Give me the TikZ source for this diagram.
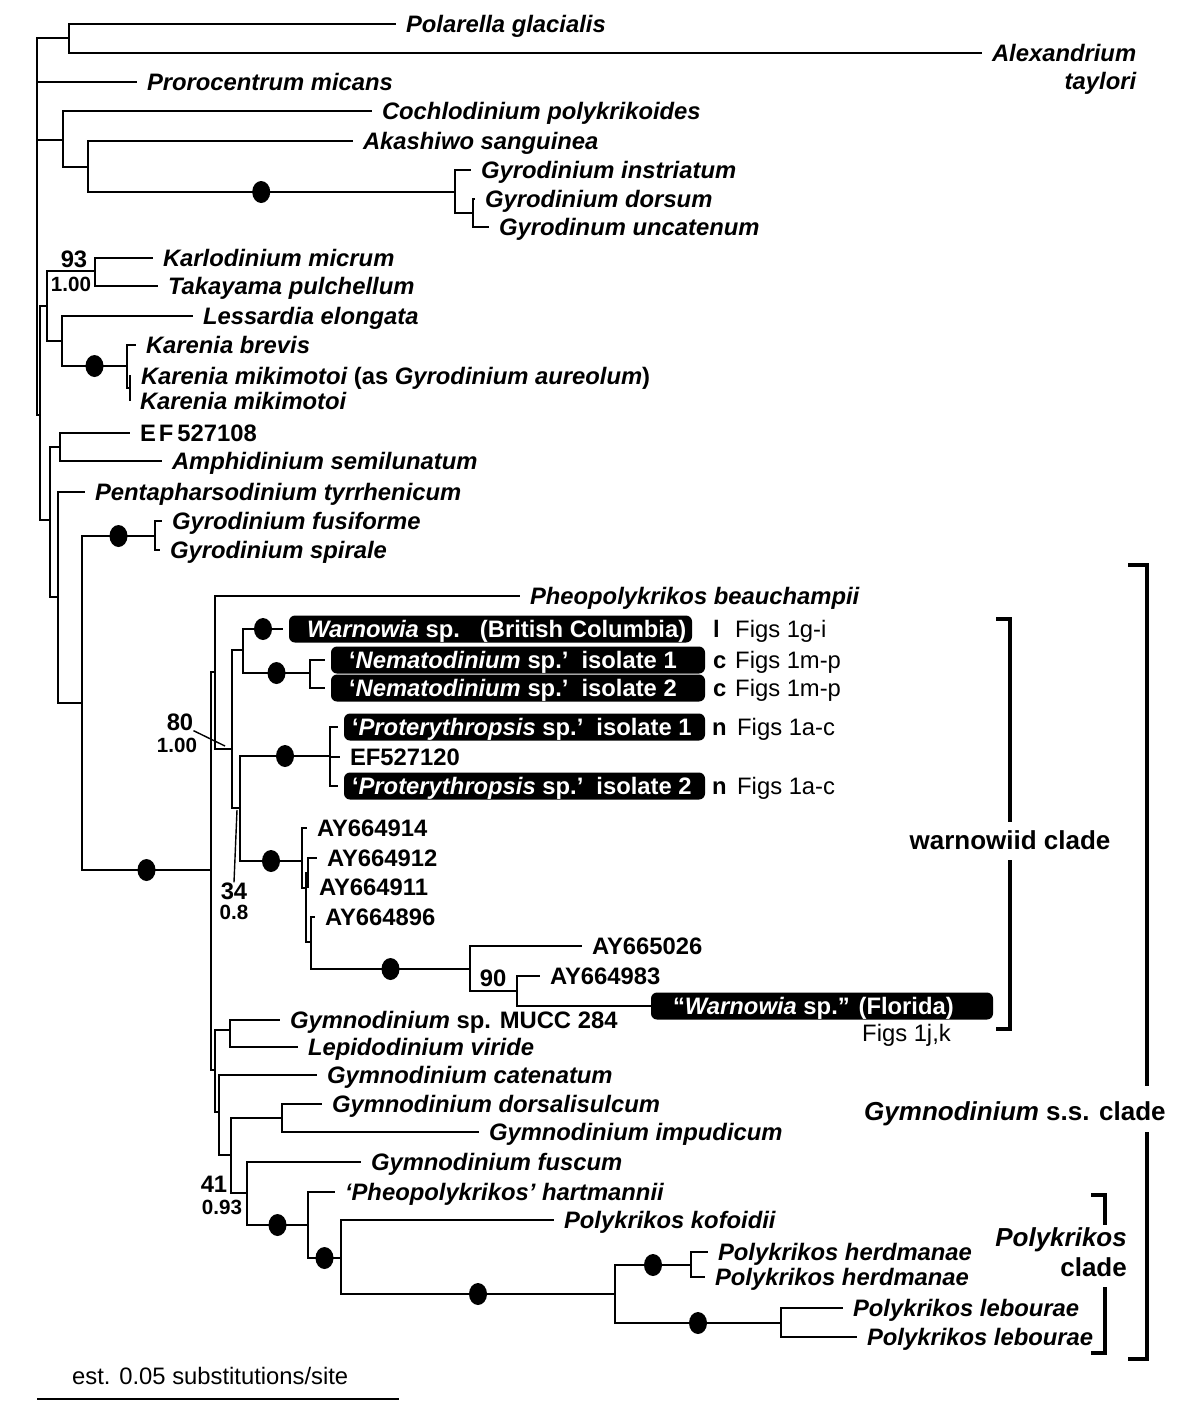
\documentclass[tikz,border=0pt]{standalone}
\usepackage{fontspec}
\setmainfont{Liberation Sans}
\usetikzlibrary{shapes.geometric,positioning}
\newcommand{\tsz}{\fontsize{23.8}{28}\selectfont}
\newcommand{\csz}{\fontsize{26}{30}\selectfont}
\newcommand{\ssz}{\fontsize{20.6}{24}\selectfont}
\newcommand{\boxlbl}[3]{\makebox[#1][l]{\hspace*{#2}#3}}
\tikzset{taxon/.style = {anchor=west, inner sep=0pt, outer xsep=10pt, text height=17pt, text depth=0pt, font=\tsz\bfseries\itshape}}
\tikzset{acc/.style = {taxon, font=\tsz\bfseries}}
\tikzset{wbox/.style = {anchor=west, fill=black, text=white, rounded corners=6pt, inner sep=0pt, minimum height=27pt, outer xsep=6pt, text height=17pt, text depth=0pt, font=\tsz\bfseries}}
\tikzset{fig/.style = {anchor=west, inner sep=0pt, text height=17pt, text depth=0pt, font=\tsz}}
\tikzset{dot/.style = {ellipse, fill=black, inner sep=0pt, minimum width=18pt, minimum height=22pt}}
\tikzset{boot/.style = {inner sep=0pt, font=\tsz\bfseries}}
\tikzset{post/.style = {inner sep=0pt, font=\ssz\bfseries}}
\tikzset{clade/.style = {inner sep=0pt, text height=17pt, text depth=0pt, font=\csz\bfseries}}
\tikzset{br/.style = {line width=1.4pt}}
\tikzset{brw/.style = {line width=2.5pt}}
\tikzset{bracket/.style = {line width=3.5pt}}

\begin{document}
\begin{tikzpicture}[x=1pt, y=-1pt]
\useasboundingbox (0,0) rectangle (1200,1422);

\coordinate (root) at (37,226);
\coordinate (c1) at (69,38);
\coordinate (c2) at (63,140);
\coordinate (akg) at (88,167);
\coordinate (gyrg) at (455,192);
\coordinate (gdu) at (473,213);
\coordinate (c3) at (40,415);
\coordinate (c4) at (47,306);
\coordinate (kt) at (95,271);
\coordinate (lk) at (62,341);
\coordinate (kar) at (127,366);
\coordinate (kmik) at (130,388);
\coordinate (c5) at (50,520);
\coordinate (efam) at (60,447);
\coordinate (c6) at (58,597);
\coordinate (c7) at (82,703);
\coordinate (fus) at (155,536);
\coordinate (gss) at (211,870);
\coordinate (wg) at (215,672);
\coordinate (wcl) at (232,749);
\coordinate (wa) at (243,650);
\coordinate (nem) at (310,673);
\coordinate (wb) at (240,808);
\coordinate (prot) at (330,756);
\coordinate (ay) at (302,861);
\coordinate (ayA) at (306,888);
\coordinate (ayB) at (308,873);
\coordinate (ayC) at (311,942);
\coordinate (fl) at (470,969);
\coordinate (fl2) at (517,991);
\coordinate (gbot) at (215,1070);
\coordinate (gl) at (230,1030);
\coordinate (gc) at (219,1112);
\coordinate (gd) at (231,1155);
\coordinate (di) at (282,1118);
\coordinate (gf) at (247,1193);
\coordinate (ph) at (308,1225);
\coordinate (pk) at (341,1258);
\coordinate (pl) at (615,1294);
\coordinate (herd) at (691,1265);
\coordinate (leb) at (781,1323);

\node[taxon] (pol) at (396,24) {Polarella glacialis};
\node[taxon] (alex) at (982,53) {Alexandrium};
\node[taxon, anchor=north east] (alexb) at ([yshift=-11pt]alex.south east) {taylori};
\node[taxon] (pro) at (137,82) {Prorocentrum micans};
\node[taxon] (cochlo) at (372,111) {Cochlodinium polykrikoides};
\node[taxon] (akash) at (353,141) {Akashiwo sanguinea};
\node[taxon] (instr) at (471,170) {Gyrodinium instriatum};
\node[taxon] (dorsum) at (475,199) {Gyrodinium dorsum};
\node[taxon] (uncat) at (489,227) {Gyrodinum uncatenum};
\node[taxon] (karlo) at (153,258) {Karlodinium micrum};
\node[taxon] (taka) at (158,286) {Takayama pulchellum};
\node[taxon] (less) at (193,316) {Lessardia elongata};
\node[taxon] (brevis) at (136,345) {Karenia brevis};
\node[taxon] (kmik1) at (131,376) {Karenia mikimotoi {\upshape(as} Gyrodinium aureolum{\upshape)}};
\node[taxon] (kmik2) at (130,401) {Karenia mikimotoi};
\node[acc] (ef108) at (130,433) {E\kern3pt F\kern4pt 527108};
\node[taxon] (amph) at (162,461) {Amphidinium semilunatum};
\node[taxon] (penta) at (85,492) {Pentapharsodinium tyrrhenicum};
\node[taxon] (fusi) at (162,521) {Gyrodinium fusiforme};
\node[taxon] (spir) at (160,550) {Gyrodinium spirale};
\node[taxon] (beau) at (520,596) {Pheopolykrikos beauchampii};
\node[wbox] (wbc) at (283,629) {\boxlbl{403pt}{18pt}{\textit{Warnowia} sp.\hspace{20pt}(British Columbia)}};
\node[wbox] (nem1) at (325,660) {\boxlbl{374pt}{18pt}{‘\textit{Nematodinium} sp.’\hspace{13pt}isolate 1}};
\node[wbox] (nem2) at (325,688) {\boxlbl{374pt}{18pt}{‘\textit{Nematodinium} sp.’\hspace{13pt}isolate 2}};
\node[wbox] (pro1) at (338,727) {\boxlbl{361pt}{8pt}{‘\textit{Proterythropsis} sp.’\hspace{13pt}isolate 1}};
\node[acc] (ef120) at (340,757) {EF527120};
\node[wbox] (pro2) at (338,786) {\boxlbl{361pt}{8pt}{‘\textit{Proterythropsis} sp.’\hspace{13pt}isolate 2}};
\node[acc] (ay914) at (307,828) {AY664914};
\node[acc] (ay912) at (317,858) {AY664912};
\node[acc] (ay911) at (309,887) {AY664911};
\node[acc] (ay896) at (315,917) {AY664896};
\node[acc] (ay026) at (582,946) {AY665026};
\node[acc] (ay983) at (540,976) {AY664983};
\node[wbox, outer xsep=0pt] (flo) at (651,1006) {\boxlbl{342pt}{22pt}{“\textit{Warnowia} sp.” (Florida)}};
\node[taxon] (gsp) at (280,1020) {Gymnodinium {\upshape sp. MUCC 284}};
\node[taxon] (lep) at (298,1047) {Lepidodinium viride};
\node[taxon] (cat) at (317,1075) {Gymnodinium catenatum};
\node[taxon] (dors) at (322,1104) {Gymnodinium dorsalisulcum};
\node[taxon] (impu) at (479,1132) {Gymnodinium impudicum};
\node[taxon] (fusc) at (361,1162) {Gymnodinium fuscum};
\node[taxon] (hart) at (335,1192) {‘Pheopolykrikos’ hartmannii};
\node[taxon] (kof) at (554,1220) {Polykrikos kofoidii};
\node[taxon] (herd1) at (708,1252) {Polykrikos herdmanae};
\node[taxon] (herd2) at (705,1277) {Polykrikos herdmanae};
\node[taxon] (leb1) at (843,1308) {Polykrikos lebourae};
\node[taxon] (leb2) at (857,1337) {Polykrikos lebourae};

\draw[br] (root) |- (c1);
\draw[br] (root) |- (pro.west);
\draw[br] (root) |- (c2);
\draw[br] (root) |- (c3);
\draw[br] (c1) |- (pol.west);
\draw[br] (c1) |- (alex.west);
\draw[br] (c2) |- (cochlo.west);
\draw[br] (c2) |- (akg);
\draw[br] (akg) |- (akash.west);
\draw[br] (akg) |- node[dot, pos=.736] (d1) {} (gyrg);
\draw[br] (gyrg) |- (instr.west);
\draw[br] (gyrg) |- (gdu);
\draw[br] (gdu) |- (dorsum.west);
\draw[br] (gdu) |- (uncat.west);
\draw[br] (c3) |- (c4);
\draw[br] (c3) |- (c5);
\draw[br] (c4) |- (kt);
\draw[br] (c4) |- (lk);
\draw[br] (kt) |- (karlo.west);
\draw[br] (kt) |- (taka.west);
\draw[br] (lk) |- (less.west);
\draw[br] (lk) |- node[dot, pos=.75] (d2) {} (kar);
\draw[br] (kar) |- (brevis.west);
\draw[br] (kar) |- (kmik);
\draw[br] (kmik) |- (kmik1.west);
\draw[br] (kmik) |- (kmik2.west);
\draw[br] (c5) |- (efam);
\draw[br] (c5) |- (c6);
\draw[br] (efam) |- (ef108.west);
\draw[br] (efam) |- (amph.west);
\draw[br] (c6) |- (penta.west);
\draw[br] (c6) |- (c7);
\draw[br] (c7) |- node[dot, pos=.75] (d3) {} (fus);
\draw[br] (c7) |- node[dot, pos=.75] (d4) {} (gss);
\draw[br] (fus) |- (fusi.west);
\draw[br] (fus) |- (spir.west);
\draw[br] (gss) |- (wg);
\draw[br] (gss) |- (gbot);
\draw[br] (wg) |- (beau.west);
\draw[br] (wg) |- (wcl);
\draw[brw] (wcl) |- (wa);
\draw[brw] (wcl) |- (wb);
\draw[brw] (wa) |- node[dot, pos=.75] (d5) {} (wbc.west);
\draw[brw] (wa) |- node[dot, pos=.75] (d6) {} (nem);
\draw[brw] (nem) |- (nem1.west);
\draw[brw] (nem) |- (nem2.west);
\draw[brw] (wb) |- node[dot, pos=.75] (d7) {} (prot);
\draw[brw] (wb) |- node[dot, pos=.75] (d8) {} (ay);
\draw[brw] (prot) |- (pro1.west);
\draw[brw] (prot) |- (ef120.west);
\draw[brw] (prot) |- (pro2.west);
\draw[brw] (ay) |- (ay914.west);
\draw[brw] (ay) |- (ayA);
\draw[brw] (ayA) |- (ayB);
\draw[brw] (ayA) |- (ayC);
\draw[brw] (ayB) |- (ay912.west);
\draw[brw] (ayB) |- (ay911.west);
\draw[brw] (ayC) |- (ay896.west);
\draw[brw] (ayC) |- node[dot, pos=.75] (d9) {} (fl);
\draw[br] (fl) |- (ay026.west);
\draw[br] (fl) |- (fl2);
\draw[br] (fl2) |- (ay983.west);
\draw[br] (fl2) |- (flo.west);
\draw[br] (gbot) |- (gl);
\draw[br] (gbot) |- (gc);
\draw[br] (gl) |- (gsp.west);
\draw[br] (gl) |- (lep.west);
\draw[br] (gc) |- (cat.west);
\draw[br] (gc) |- (gd);
\draw[br] (gd) |- (di);
\draw[br] (gd) |- (gf);
\draw[br] (di) |- (dors.west);
\draw[br] (di) |- (impu.west);
\draw[br] (gf) |- (fusc.west);
\draw[brw] (gf) |- node[dot, pos=.75] (d10) {} (ph);
\draw[br] (ph) |- (hart.west);
\draw[brw] (ph) |- node[dot, pos=.75] (d11) {} (pk);
\draw[brw] (pk) |- (kof.west);
\draw[brw] (pk) |- node[dot, pos=.75] (d12) {} (pl);
\draw[brw] (pl) |- node[dot, pos=.75] (d13) {} (herd);
\draw[brw] (pl) |- node[dot, pos=.75] (d14) {} (leb);
\draw[br] (herd) |- (herd1.west);
\draw[br] (herd) |- (herd2.west);
\draw[br] (leb) |- (leb1.west);
\draw[br] (leb) |- (leb2.west);

\node[boot] (b93) at (74,259) {93};
\node[post] (p93) at (71,284) {1.00};
\node[boot] (b80) at (180,722) {80};
\node[post] (p80) at (177,745) {1.00};
\node[boot] (b34) at (234,891) {34};
\node[post] (p34) at (234,912) {0.8};
\node[boot] (b41) at (214,1184) {41};
\node[post] (p41) at (222,1207) {0.93};
\node[boot] (b90) at (493,978) {90};
\coordinate (l80) at (225,746);
\coordinate (l34) at (237,810);
\draw[br] (b80.south east) -- (l80);
\draw[br] (b34.north) -- (l34);

\node[fig] (f1) at (713,629) {\makebox[22pt][l]{\bfseries l}Figs 1g-i};
\node[fig] (f2) at (713,660) {\makebox[22pt][l]{\bfseries c}Figs 1m-p};
\node[fig] (f3) at (713,688) {\makebox[22pt][l]{\bfseries c}Figs 1m-p};
\node[fig] (f4) at (712,727) {\makebox[25pt][l]{\bfseries n}Figs 1a-c};
\node[fig] (f5) at (712,786) {\makebox[25pt][l]{\bfseries n}Figs 1a-c};
\node[fig] (f6) at (862,1033) {Figs 1j,k};

\node[clade, inner ysep=10.5pt] (wtxt) at (1010,841) {warnowiid clade};
\coordinate (wtop) at (996,619);
\coordinate (wend) at (996,1029);
\draw[bracket] (wtop) -| (wtxt.north);
\draw[bracket] (wtxt.south) |- (wend);

\node[clade, anchor=west] (gtxt) at (864,1112) {\textit{Gymnodinium} s.s. clade};
\coordinate (gtop) at (1128,565);
\coordinate (gup) at (1147,1086);
\coordinate (gdn) at (1147,1132);
\coordinate (gend) at (1128,1359);
\draw[bracket] (gtop) -| (gup);
\draw[bracket] (gdn) |- (gend);

\node[clade, anchor=east] (ptxt) at (1127,1238) {\textit{Polykrikos}};
\node[clade, anchor=east] (ptxt2) at (1127,1268) {clade};
\coordinate (ptop) at (1091,1195);
\coordinate (pup) at (1105,1225);
\coordinate (pdn) at (1105,1287);
\coordinate (pend) at (1091,1353);
\draw[bracket] (ptop) -| (pup);
\draw[bracket] (pdn) |- (pend);

\node[fig] (sbt) at (72,1376) {est. 0.05 substitutions/site};
\coordinate (sb0) at (37,1399);
\coordinate (sb1) at (399,1399);
\draw[br] (sb0) -- (sb1);
\end{tikzpicture}
\end{document}
